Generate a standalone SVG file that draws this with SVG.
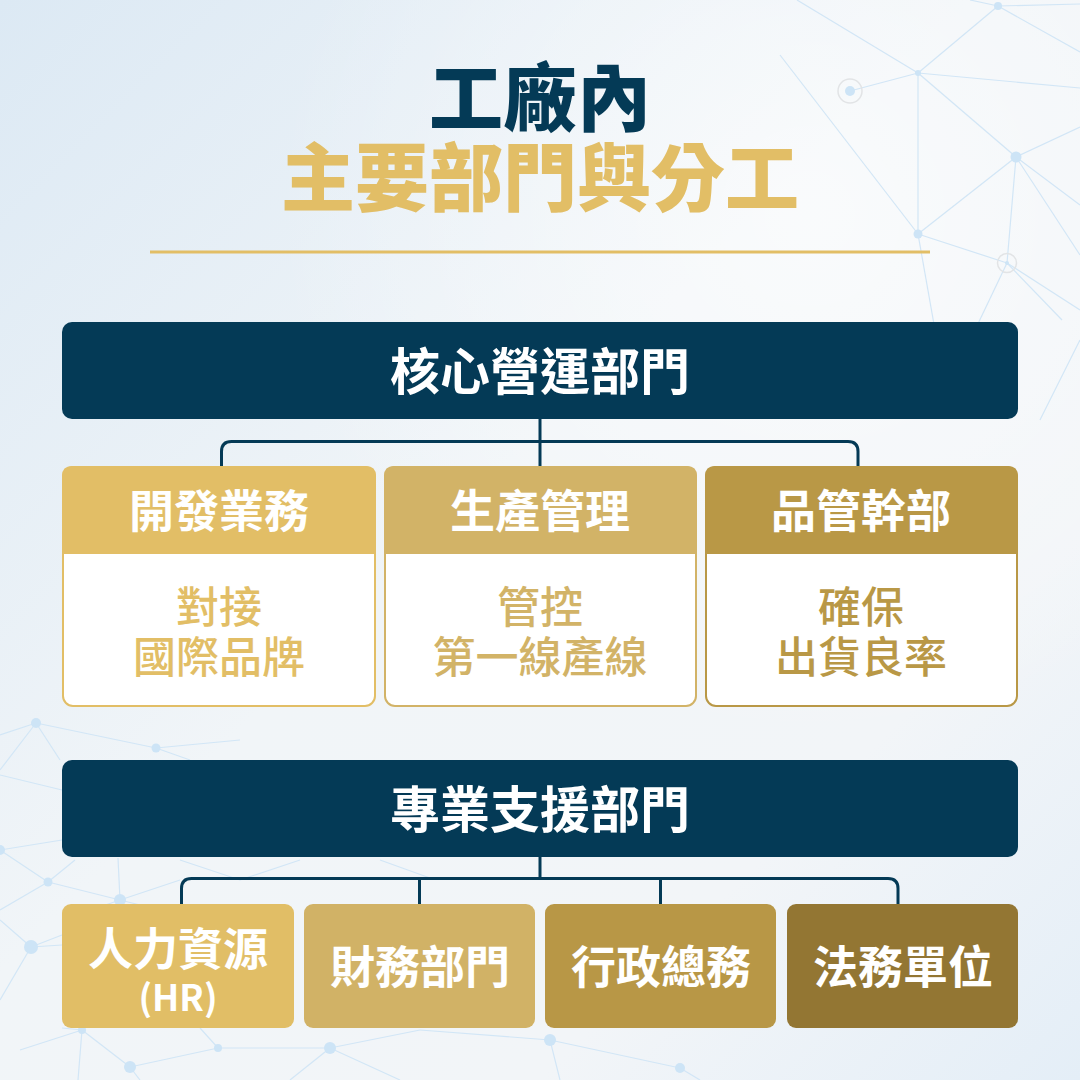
<svg xmlns="http://www.w3.org/2000/svg" width="1080" height="1080" viewBox="0 0 1080 1080">
<defs>
<linearGradient id="bg" x1="0" y1="0" x2="1" y2="1">
<stop offset="0" stop-color="#DCE9F4"/>
<stop offset="0.45" stop-color="#F1F5F8"/>
<stop offset="0.75" stop-color="#F2F5F8"/>
<stop offset="1" stop-color="#E4EEF7"/>
</linearGradient>
<radialGradient id="glow" cx="0.75" cy="0.2" r="0.5">
<stop offset="0" stop-color="#FFFFFF" stop-opacity="0.6"/>
<stop offset="1" stop-color="#FFFFFF" stop-opacity="0"/>
</radialGradient>
<style>
.net line{stroke:#D2E6F6;stroke-width:1.2}
.net circle{fill:#CDE4F6}
.ring{fill:none;stroke:#E2E4E6;stroke-width:1.5}
.t{font-family:"Noto Sans CJK TC","Noto Sans CJK SC",sans-serif;text-anchor:middle;dominant-baseline:central}
.title{font-size:74px;font-weight:900}
.bar{fill:#043A56}
.bartxt{font-size:50px;font-weight:700;fill:#FFFFFF}
.head{font-size:45px;font-weight:700;fill:#FFFFFF}
.body{font-size:43px;font-weight:500}
.conn{fill:none;stroke:#043A56;stroke-width:3}
</style>
</defs>
<rect width="1080" height="1080" fill="url(#bg)"/>
<rect width="1080" height="1080" fill="url(#glow)"/>
<g class="net">
<line x1="797" y1="0" x2="918" y2="73"/>
<line x1="970" y1="0" x2="998" y2="6"/>
<line x1="998" y1="6" x2="1080" y2="4"/>
<line x1="998" y1="6" x2="1080" y2="52"/>
<line x1="918" y1="73" x2="998" y2="6"/>
<line x1="918" y1="73" x2="850" y2="91"/>
<line x1="918" y1="73" x2="1080" y2="88"/>
<line x1="918" y1="73" x2="1016" y2="157"/>
<line x1="918" y1="73" x2="918" y2="234"/>
<line x1="780" y1="55" x2="918" y2="234"/>
<line x1="1016" y1="157" x2="918" y2="234"/>
<line x1="1016" y1="157" x2="1080" y2="127"/>
<line x1="1016" y1="157" x2="1080" y2="205"/>
<line x1="1016" y1="157" x2="1080" y2="255"/>
<line x1="1016" y1="157" x2="1007" y2="263"/>
<line x1="918" y1="234" x2="1007" y2="263"/>
<line x1="918" y1="234" x2="935" y2="330"/>
<line x1="1007" y1="263" x2="975" y2="330"/>
<line x1="1007" y1="263" x2="1080" y2="310"/>
<line x1="1007" y1="263" x2="1062" y2="320"/>
<line x1="1080" y1="340" x2="1040" y2="420"/>
<line x1="0" y1="735" x2="36" y2="723"/>
<line x1="36" y1="723" x2="156" y2="748"/>
<line x1="36" y1="723" x2="0" y2="770"/>
<line x1="36" y1="723" x2="60" y2="760"/>
<line x1="156" y1="748" x2="240" y2="740"/>
<line x1="156" y1="748" x2="190" y2="760"/>
<line x1="0" y1="775" x2="62" y2="790"/>
<line x1="0" y1="850" x2="48" y2="882"/>
<line x1="0" y1="850" x2="62" y2="840"/>
<line x1="48" y1="882" x2="120" y2="900"/>
<line x1="48" y1="882" x2="0" y2="910"/>
<line x1="48" y1="882" x2="75" y2="860"/>
<line x1="120" y1="900" x2="180" y2="880"/>
<line x1="120" y1="900" x2="62" y2="920"/>
<line x1="120" y1="900" x2="118" y2="858"/>
<line x1="120" y1="900" x2="180" y2="915"/>
<line x1="0" y1="920" x2="31" y2="947"/>
<line x1="31" y1="947" x2="62" y2="945"/>
<line x1="31" y1="947" x2="0" y2="1000"/>
<line x1="31" y1="947" x2="62" y2="935"/>
<line x1="20" y1="1050" x2="82" y2="1030"/>
<line x1="82" y1="1030" x2="62" y2="1028"/>
<line x1="82" y1="1030" x2="130" y2="1067"/>
<line x1="82" y1="1030" x2="78" y2="1080"/>
<line x1="130" y1="1067" x2="218" y2="1048"/>
<line x1="130" y1="1067" x2="140" y2="1080"/>
<line x1="218" y1="1048" x2="330" y2="1048"/>
<line x1="218" y1="1048" x2="200" y2="1028"/>
<line x1="330" y1="1048" x2="400" y2="1080"/>
<line x1="330" y1="1048" x2="290" y2="1080"/>
<line x1="330" y1="1048" x2="420" y2="1030"/>
<line x1="420" y1="1030" x2="550" y2="1040"/>
<line x1="550" y1="1040" x2="680" y2="1068"/>
<line x1="550" y1="1040" x2="560" y2="1080"/>
<line x1="680" y1="1068" x2="700" y2="1080"/>
<line x1="240" y1="880" x2="300" y2="860"/>
<line x1="180" y1="860" x2="240" y2="880"/>
<line x1="380" y1="860" x2="430" y2="878"/>
<circle cx="998" cy="6" r="4"/>
<circle cx="918" cy="73" r="3"/>
<circle cx="850" cy="91" r="5"/>
<circle cx="1016" cy="157" r="5.5"/>
<circle cx="918" cy="234" r="4.5"/>
<circle cx="1007" cy="263" r="2"/>
<circle cx="36" cy="723" r="5"/>
<circle cx="156" cy="748" r="4.5"/>
<circle cx="0" cy="850" r="5"/>
<circle cx="48" cy="882" r="4.5"/>
<circle cx="120" cy="900" r="6"/>
<circle cx="31" cy="947" r="7"/>
<circle cx="82" cy="1030" r="4"/>
<circle cx="130" cy="1067" r="6"/>
<circle cx="218" cy="1048" r="4"/>
<circle cx="330" cy="1048" r="6"/>
<circle cx="550" cy="1040" r="6"/>
<circle cx="680" cy="1068" r="5"/>
</g>
<circle class="ring" cx="850" cy="91" r="12"/>
<circle class="ring" cx="1007" cy="263" r="9.5"/>

<g id="title">
<text class="t title" x="540" y="92" fill="#043A56">工廠內</text>
<text class="t title" x="540" y="172" fill="#E2BE66">主要部門與分工</text>
<rect x="150" y="250.5" width="780" height="3" fill="#E2BE66"/>
</g>

<g id="connectors">
<path class="conn" d="M540 419 V441.5"/>
<path class="conn" d="M221.5 466 V451.5 Q221.5 441.5 231.5 441.5 H848 Q858 441.5 858 451.5 V466"/>
<path class="conn" d="M540 441.5 V466"/>
<path class="conn" d="M540 857 V878.5"/>
<path class="conn" d="M181.5 904 V888.5 Q181.5 878.5 191.5 878.5 H888 Q898 878.5 898 888.5 V904"/>
<path class="conn" d="M419.5 878.5 V904"/>
<path class="conn" d="M660.5 878.5 V904"/>
</g>

<g id="core">
<rect class="bar" x="62" y="322" width="956" height="97" rx="10"/>
<text class="t bartxt" x="540" y="368">核心營運部門</text>
</g>

<g id="card-sales">
<rect x="63" y="467" width="312" height="239" rx="10" fill="#FFFFFF" stroke="#E2BE66" stroke-width="2"/>
<path d="M62 476 Q62 466 72 466 H366 Q376 466 376 476 V554 H62 Z" fill="#E2BE66"/>
<text class="t head" x="219" y="508">開發業務</text>
<text class="t body" x="219" y="604" fill="#E2BE66">對接</text>
<text class="t body" x="219" y="654" fill="#E2BE66">國際品牌</text>
</g>

<g id="card-production">
<rect x="385" y="467" width="311" height="239" rx="10" fill="#FFFFFF" stroke="#D2B367" stroke-width="2"/>
<path d="M384 476 Q384 466 394 466 H687 Q697 466 697 476 V554 H384 Z" fill="#D2B367"/>
<text class="t head" x="540" y="508">生產管理</text>
<text class="t body" x="540" y="604" fill="#D2B367">管控</text>
<text class="t body" x="540" y="654" fill="#D2B367">第一線產線</text>
</g>

<g id="card-qc">
<rect x="706" y="467" width="311" height="239" rx="10" fill="#FFFFFF" stroke="#B99846" stroke-width="2"/>
<path d="M705 476 Q705 466 715 466 H1008 Q1018 466 1018 476 V554 H705 Z" fill="#B99846"/>
<text class="t head" x="861" y="508">品管幹部</text>
<text class="t body" x="861" y="604" fill="#B99846">確保</text>
<text class="t body" x="861" y="654" fill="#B99846">出貨良率</text>
</g>

<g id="support">
<rect class="bar" x="62" y="760" width="956" height="97" rx="10"/>
<text class="t bartxt" x="540" y="806">專業支援部門</text>
</g>

<g id="hr">
<rect x="62" y="904" width="232" height="124" rx="9" fill="#E1BE66"/>
<text class="t head" x="178" y="946">人力資源</text>
<text class="t head" x="178" y="995" style="font-size:36px">(HR)</text>
</g>
<g id="finance">
<rect x="304" y="904" width="231" height="124" rx="9" fill="#D1B266"/>
<text class="t head" x="420" y="964">財務部門</text>
</g>
<g id="admin">
<rect x="545" y="904" width="231" height="124" rx="9" fill="#B89746"/>
<text class="t head" x="661" y="964">行政總務</text>
</g>
<g id="legal">
<rect x="787" y="904" width="231" height="124" rx="9" fill="#937633"/>
<text class="t head" x="903" y="964">法務單位</text>
</g>
</svg>
